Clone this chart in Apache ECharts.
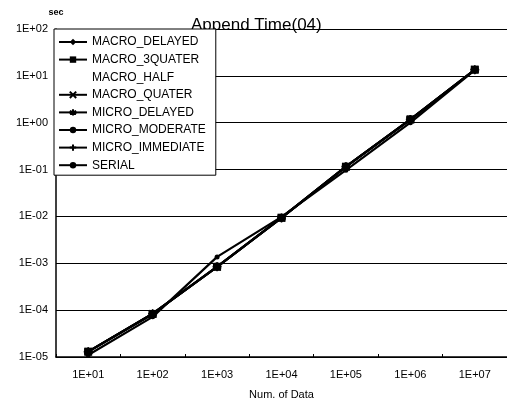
<!DOCTYPE html>
<html>
<head>
<meta charset="utf-8">
<script src="https://cdn.jsdelivr.net/npm/echarts@6/dist/echarts.min.js"></script>
<style>html,body{margin:0;padding:0;background:#fff}#c{width:507px;height:403px}</style>
</head>
<body>
<div id="c"></div>
<script>
const categories = ['1E+01','1E+02','1E+03','1E+04','1E+05','1E+06','1E+07'];
const yTickLabels = {'-5':'1E-05','-4':'1E-04','-3':'1E-03','-2':'1E-02','-1':'1E-01','0':'1E+00','1':'1E+01','2':'1E+02'};
const seriesNames = ['MACRO_DELAYED','MACRO_3QUATER','MACRO_HALF','MACRO_QUATER','MICRO_DELAYED','MICRO_MODERATE','MICRO_IMMEDIATE','SERIAL'];
const macroDelayed   = [1.3e-5, 8.4e-5, 8.4e-4, 9.3e-3, 0.115, 1.18, 13.5];
const macro3Quater   = [1.3e-5, 8.3e-5, 8.4e-4, 9.4e-3, 0.115, 1.17, 13.6];
const macroHalf      = [1.3e-5, 8.4e-5, 8.5e-4, 9.4e-3, 0.114, 1.17, 13.5];
const macroQuater    = [1.3e-5, 8.4e-5, 8.4e-4, 9.3e-3, 0.115, 1.18, 13.5];
const microDelayed   = [1.3e-5, 8.4e-5, 8.4e-4, 9.4e-3, 0.115, 1.17, 13.4];
const microModerate  = [1.3e-5, 8.3e-5, 8.5e-4, 9.3e-3, 0.116, 1.18, 13.5];
const microImmediate = [1.3e-5, 8.4e-5, 8.4e-4, 9.3e-3, 0.115, 1.17, 13.5];
const serial         = [1.1e-5, 7.2e-5, 1.37e-3, 9.8e-3, 0.097, 1.0, 13.2];
const seriesValues = [macroDelayed, macro3Quater, macroHalf, macroQuater, microDelayed, microModerate, microImmediate, serial];

const symX = 'path://M0,0L10,10M10,0L0,10';
const symStar = 'path://M5,0L5,10M0,2.5L10,7.5M10,2.5L0,7.5';
const symPlus = 'path://M5,0L5,10M0,5L10,5';
const styles = [
  {symbol:'diamond', symbolSize:8, lw:2.2},
  {symbol:'rect', symbolSize:8, lw:2.2},
  {symbol:'none', symbolSize:0, lw:0},
  {symbol:symX, symbolSize:7, lw:1, stroke:true},
  {symbol:symStar, symbolSize:8, lw:2.2, stroke:true},
  {symbol:'circle', symbolSize:8, lw:2.2},
  {symbol:symPlus, symbolSize:9, lw:1, stroke:true},
  {symbol:'circle', symbolSize:5, lw:2.2}
];

const series = seriesNames.map((n, i) => {
  const s = styles[i];
  return {
    name: n,
    type: 'line',
    data: seriesValues[i],
    symbol: s.symbol,
    symbolSize: s.symbolSize,
    showSymbol: s.symbol !== 'none',
    lineStyle: {color:'#000', width: s.lw, opacity: s.lw ? 1 : 0},
    itemStyle: {color:'#000', borderColor:'#000', borderWidth: s.stroke ? 1.5 : 0, opacity: s.symbol === 'none' ? 0 : 1},
    emphasis: {disabled: true},
    z: i === 7 ? 3 : 2
  };
});

const chart = echarts.init(document.getElementById('c'), null, {renderer:'canvas'});
chart.setOption({
  animation: false,
  backgroundColor: '#fff',
  textStyle: {fontFamily: 'Liberation Sans, Arial, sans-serif', color:'#000'},
  title: {
    text: 'Append Time(04)',
    left: 186, top: 12,
    textStyle: {fontSize: 17, fontWeight: 'normal', color:'#000', fontFamily:'Liberation Sans, Arial, sans-serif'}
  },
  grid: {left: 56, right: 0, top: 29, bottom: 46, containLabel: false, outerBoundsMode: 'none'},
  legend: {
    orient: 'vertical',
    left: 54, top: 29,
    data: seriesNames,
    itemWidth: 28, itemHeight: 8, itemGap: 3.6,
    padding: [6, 10, 3, 4],
    borderColor: '#000', borderWidth: 1, backgroundColor: '#fff',
    textStyle: {fontSize: 12, color:'#000', lineHeight: 14, fontFamily:'Liberation Sans, Arial, sans-serif'},
    selectedMode: false,
    z: 10
  },
  xAxis: {
    type: 'category',
    data: categories,
    boundaryGap: true,
    name: 'Num. of Data',
    nameLocation: 'middle',
    nameGap: 32,
    nameTextStyle: {fontSize: 11, color:'#000'},
    axisLine: {lineStyle: {color:'#000', width: 1.5}},
    axisTick: {show: true, inside: true, length: 3, lineStyle: {color:'#000'}},
    axisLabel: {fontSize: 11, color:'#000', margin: 12},
    splitLine: {show: false}
  },
  yAxis: {
    type: 'log',
    logBase: 10,
    min: 1e-5, max: 100,
    name: 'sec',
    nameLocation: 'end',
    nameGap: 12,
    nameTextStyle: {fontSize: 9, fontWeight: 'bold', color:'#000', align: 'center'},
    axisLine: {show: true, lineStyle: {color:'#000', width: 1.5}},
    axisTick: {show: false},
    axisLabel: {
      fontSize: 11, color:'#000', margin: 8,
      formatter: v => yTickLabels[String(Math.round(Math.log10(v)))] || ''
    },
    splitLine: {show: true, lineStyle: {color:'#000', width: 1}}
  },
  series: series
});
</script>
</body>
</html>
